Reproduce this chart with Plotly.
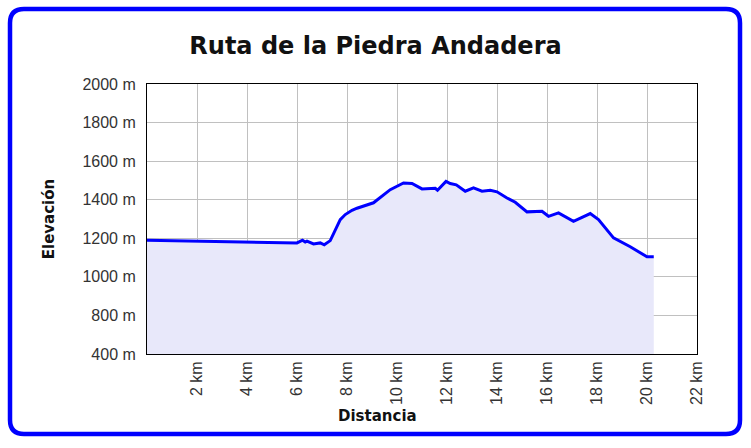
import plotly.graph_objects as go

# ---- data ----
dist_km = [0, 6.0, 6.22, 6.33, 6.4, 6.66, 6.93, 7.09, 7.33, 7.73, 7.93, 8.2, 8.4,
           9.06, 9.73, 10.26, 10.6, 11.0, 11.53, 11.62, 11.96, 12.13, 12.37, 12.73,
           13.06, 13.4, 13.73, 14.0, 14.4, 14.73, 15.2, 15.8, 16.06, 16.46, 17.06,
           17.73, 18.06, 18.66, 19.33, 20.0, 20.27]
elev_m = [1190, 1176, 1190, 1181, 1185, 1171, 1176, 1166, 1188, 1297, 1323, 1345, 1356,
          1384, 1452, 1487, 1484, 1456, 1459, 1449, 1495, 1484, 1477, 1444,
          1461, 1444, 1449, 1441, 1409, 1387, 1337, 1340, 1314, 1332, 1288,
          1328, 1297, 1202, 1156, 1104, 1104]

x_tickvals = [2, 4, 6, 8, 10, 12, 14, 16, 18, 20, 22]
x_ticktext = ["2 km", "4 km", "6 km", "8 km", "10 km", "12 km", "14 km",
              "16 km", "18 km", "20 km", "22 km"]
y_tickvals = [600, 800, 1000, 1200, 1400, 1600, 1800, 2000]
y_ticktext = ["400 m", "800 m", "1000 m", "1200 m", "1400 m", "1600 m",
              "1800 m", "2000 m"]

title_text = "Ruta de la Piedra Andadera"
x_title = "Distancia"
y_title = "Elevación"

# ---- layout geometry ----
W, H = 751, 448
ML, MR, MT, MB = 147, 54, 84, 94
PW, PH = W - ML - MR, H - MT - MB


def px(x):
    return (x - ML) / PW


def py(y):
    return (H - MB - y) / PH


def rounded_rect(x0, y0, x1, y1, r):
    pts = []
    pts.append(f"M {px(x0 + r)},{py(y0)}")
    pts.append(f"L {px(x1 - r)},{py(y0)}")
    pts.append(f"Q {px(x1)},{py(y0)} {px(x1)},{py(y0 + r)}")
    pts.append(f"L {px(x1)},{py(y1 - r)}")
    pts.append(f"Q {px(x1)},{py(y1)} {px(x1 - r)},{py(y1)}")
    pts.append(f"L {px(x0 + r)},{py(y1)}")
    pts.append(f"Q {px(x0)},{py(y1)} {px(x0)},{py(y1 - r)}")
    pts.append(f"L {px(x0)},{py(y0 + r)}")
    pts.append(f"Q {px(x0)},{py(y0)} {px(x0 + r)},{py(y0)}")
    pts.append("Z")
    return " ".join(pts)


fig = go.Figure()
fig.add_trace(go.Scatter(
    x=dist_km, y=elev_m, mode="lines",
    line=dict(color="#0000FF", width=3),
    fill="tozeroy", fillcolor="#E8E8FA",
    hoverinfo="x+y", showlegend=False,
))

tick_font = dict(family="Liberation Sans, Arial, sans-serif", size=16, color="#333333")
title_font_family = "DejaVu Sans, sans-serif"

fig.update_layout(
    width=W, height=H,
    margin=dict(l=ML, r=MR, t=MT, b=MB, pad=0),
    paper_bgcolor="white", plot_bgcolor="white",
    title=dict(text=f"<b>{title_text}</b>", x=0.5, xref="container", xanchor="center",
               y=1 - 46 / H, yref="container", yanchor="middle",
               font=dict(family=title_font_family, size=24, color="#111111")),
    xaxis=dict(range=[0, 22], tickvals=x_tickvals, ticktext=x_ticktext,
               tickangle=-90, tickfont=tick_font, ticks="", ticklabelstandoff=0,
               showgrid=True, gridcolor="#C0C0C0", gridwidth=1,
               showline=True, linecolor="black", linewidth=1, mirror=True,
               zeroline=False),
    yaxis=dict(range=[600, 2000], tickvals=y_tickvals, ticktext=y_ticktext,
               tickfont=tick_font, ticks="", ticklabelstandoff=7,
               showgrid=True, gridcolor="#C0C0C0", gridwidth=1,
               showline=True, linecolor="black", linewidth=1, mirror=True,
               zeroline=False,
               title=dict(text=f"<b>{y_title}</b>", standoff=24,
                          font=dict(family=title_font_family, size=15, color="#111111"))),
    annotations=[dict(text=f"<b>{x_title}</b>", xref="paper", yref="paper",
                      x=px(377.5), y=py(416), xanchor="center", yanchor="middle",
                      showarrow=False,
                      font=dict(family=title_font_family, size=15, color="#111111"))],
    shapes=[dict(type="path", xref="paper", yref="paper",
                 path=rounded_rect(10, 9, 740, 434, 14),
                 line=dict(color="#0000FF", width=4.5), layer="above")],
)

fig.write_html("out.html",
               config={"displayModeBar": False},
               post_script="document.body.style.margin='0';document.body.style.overflow='hidden';")
